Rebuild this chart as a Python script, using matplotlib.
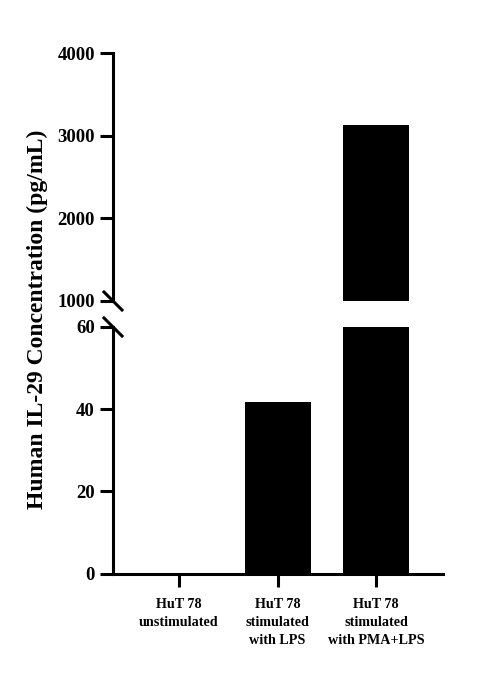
import matplotlib
matplotlib.use("Agg")
import matplotlib.pyplot as plt

categories = ["HuT 78\nunstimulated", "HuT 78\nstimulated\nwith LPS", "HuT 78\nstimulated\nwith PMA+LPS"]
values = [0, 41.7, 3135]
top_ticks = [1000, 2000, 3000, 4000]
bottom_ticks = [0, 20, 40, 60]

plt.rcParams['font.family'] = ['Liberation Serif', 'DejaVu Serif']
plt.rcParams['font.weight'] = 'bold'

W, H = 490, 688
fig = plt.figure(figsize=(W/100, H/100), dpi=100)
left = 113 / W
width = (443 - 113) / W
ax_top = fig.add_axes([left, 1 - 301 / H, width, (301 - 53) / H])
ax_bot = fig.add_axes([left, 1 - 573.5 / H, width, (573.5 - 327) / H])

x = list(range(len(categories)))
lw = 2.2
for ax in (ax_top, ax_bot):
    ax.bar(x, values, width=0.67, color='black', edgecolor='black', linewidth=0)
    ax.set_xlim(-0.67, 2.68)
    ax.spines['right'].set_visible(False)
    ax.spines['top'].set_visible(False)
    ax.spines['left'].set_linewidth(lw)
    ax.spines['bottom'].set_linewidth(lw)
    ax.tick_params(axis='both', width=lw, length=9.5, labelsize=13.5)

ax_top.set_ylim(1000, 4000)
ax_top.set_yticks(top_ticks)
ax_top.spines['bottom'].set_visible(False)
ax_top.tick_params(axis='x', bottom=False, labelbottom=False)

ax_bot.set_ylim(0, 60)
ax_bot.set_yticks(bottom_ticks)
ax_bot.set_xticks(x)
ax_bot.set_xticklabels(categories, fontsize=10.2, fontweight='bold', linespacing=1.45)
ax_bot.tick_params(axis='x', pad=8.5)

for ax in (ax_top, ax_bot):
    for lab in ax.get_yticklabels():
        lab.set_fontweight('bold')

# break marks
d = 9
for ypx in (301, 327):
    xs = [113 - d, 113 + d]
    ys = [H - (ypx - d), H - (ypx + d)]
    fig.add_artist(plt.Line2D([v / W for v in xs], [v / H for v in ys],
                              transform=fig.transFigure, color='black', lw=lw))

fig.text(37 / W, 1 - 319 / H, "Human IL-29 Concentration (pg/mL)", rotation=90,
         ha='center', va='center', fontsize=17, fontweight='bold')

fig.savefig("out.png", dpi=100)
